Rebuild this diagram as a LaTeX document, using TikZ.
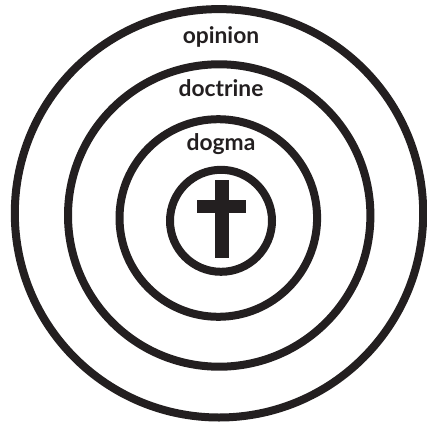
\documentclass[tikz,border=0pt]{standalone}
\usepackage{fontspec}
\setmainfont{Lato}
\definecolor{ink}{HTML}{231F20}
\begin{document}
\begin{tikzpicture}[x=1pt,y=-1pt,
  ring/.style={draw=ink,line width=8pt},
  lbl/.style={anchor=base,text=ink,font=\bfseries\fontsize{22.8}{27}\selectfont,inner sep=0pt}]
\useasboundingbox (0,0) rectangle (427,425);
\draw[ring] (219,213.3) circle[radius=204.2];
\draw[ring] (219.2,215.5) circle[radius=151.2];
\draw[ring] (218.3,218) circle[radius=98.8];
\draw[ring] (221,220.8) circle[radius=51];
\fill[ink] (215,180) rectangle (228.5,258.3);
\fill[ink] (196.5,200.3) rectangle (245.5,213.3);
\node[lbl] (opinion) at (221,43.4) {opinion};
\node[lbl] (doctrine) at (221,96.5) {doctrine};
\node[lbl] (dogma) at (221,150.7) {dogma};
\end{tikzpicture}
\end{document}
